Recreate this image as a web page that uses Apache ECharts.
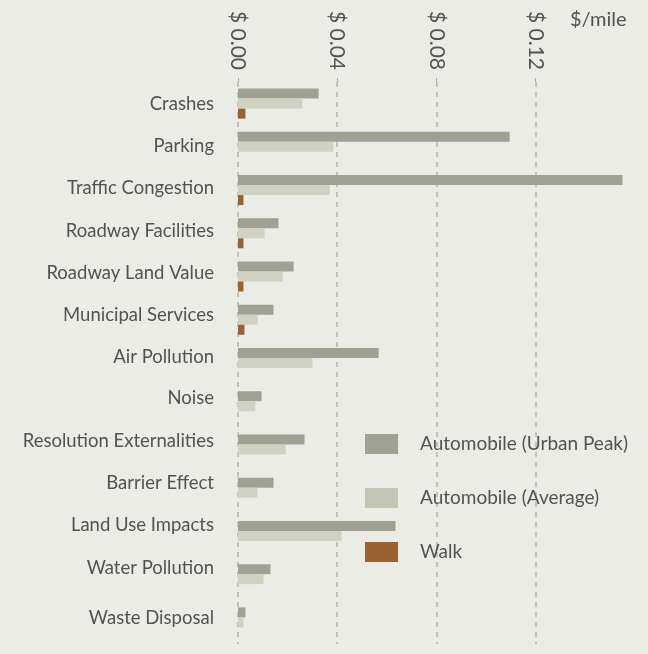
<!DOCTYPE html>
<html><head><meta charset="utf-8">
<script src="https://cdn.jsdelivr.net/npm/echarts@6/dist/echarts.min.js"></script>
<style>html,body{margin:0;padding:0;background:#ecece6;}#c{width:648px;height:654px;}</style>
</head><body><div id="c"></div>
<script>
const categories = ["Crashes","Parking","Traffic Congestion","Roadway Facilities","Roadway Land Value","Municipal Services","Air Pollution","Noise","Resolution Externalities","Barrier Effect","Land Use Impacts","Water Pollution","Waste Disposal"];
const urbanPeak = [0.0325,0.1095,0.155,0.0163,0.0224,0.0143,0.0567,0.0095,0.0268,0.0143,0.0635,0.0131,0.003];
const average   = [0.026,0.0385,0.037,0.0107,0.018,0.0079,0.030,0.007,0.0192,0.0079,0.0417,0.0103,0.0022];
const walk      = [0.003,0,0.0022,0.0022,0.0022,0.0026,0,0,0,0,0,0,0];
const xTicks = [0,0.04,0.08,0.12];
const seriesNames = ["Automobile (Urban Peak)","Automobile (Average)","Walk"];

// style only: vertical nudge (px, upward) of each category label, as in the reference layout
const labelNudge = [0,1,2,2,4,5,6,8,8.5,9.5,11,11,4];

const FONT = "Lato";
const TXT = "#525252";
const colors = ["#a0a093","#cfd2c0","#9a6131"];
const legendColors = ["#a0a093","#c3c5b0","#9a6131"];

const rich = {t:{fontFamily:FONT, fontSize:18.5, color:TXT}};
labelNudge.forEach((n,i)=>{ rich['s'+i] = {fontSize:1, lineHeight:Math.max(1,2*n)}; });

const chart = echarts.init(document.getElementById('c'), null, {renderer:'canvas'});
chart.setOption({
  backgroundColor:'#ecece6',
  animation:false,
  grid:{left:238, top:82, width:387, height:562, containLabel:false, outerBoundsMode:'none'},
  graphic:[{type:'text', left:570, top:10, style:{text:'$/mile', font:'20px '+FONT, fill:TXT}}],
  legend:{
    orient:'vertical', left:365, top:434, padding:0, itemWidth:33, itemHeight:20, itemGap:34,
    icon:'rect',
    textStyle:{fontFamily:FONT, fontSize:19, color:TXT, padding:[0,0,0,17]},
    data:seriesNames.map((n,i)=>({name:n, itemStyle:{color:legendColors[i]}}))
  },
  xAxis:{
    type:'value', position:'top', min:0, max:0.156, interval:0.04,
    axisLine:{show:false},
    axisTick:{show:true, length:4, lineStyle:{color:'#aaa'}, customValues:xTicks},
    axisLabel:{rotate:90, margin:12, fontFamily:FONT, fontSize:21, color:TXT, customValues:xTicks,
      formatter:v=> '$ '+v.toFixed(2)},
    splitLine:{show:true, lineStyle:{type:[5,5], color:'#b4b4ae', width:1.5}}
  },
  yAxis:{
    type:'category', inverse:true, data:categories,
    axisLine:{show:false}, axisTick:{show:false},
    axisLabel:{margin:24, rich:rich,
      formatter:(v,i)=> labelNudge[i] ? '{t|'+v+'}\n{s'+i+'|\u200b}' : '{t|'+v+'}'}
  },
  series:[
    {name:seriesNames[0], type:'bar', data:urbanPeak, barWidth:10, barGap:'0%', itemStyle:{color:colors[0]}},
    {name:seriesNames[1], type:'bar', data:average, barWidth:10, barGap:'0%', itemStyle:{color:colors[1]}},
    {name:seriesNames[2], type:'bar', data:walk, barWidth:10, barGap:'0%', itemStyle:{color:colors[2]}}
  ]
});
</script></body></html>
